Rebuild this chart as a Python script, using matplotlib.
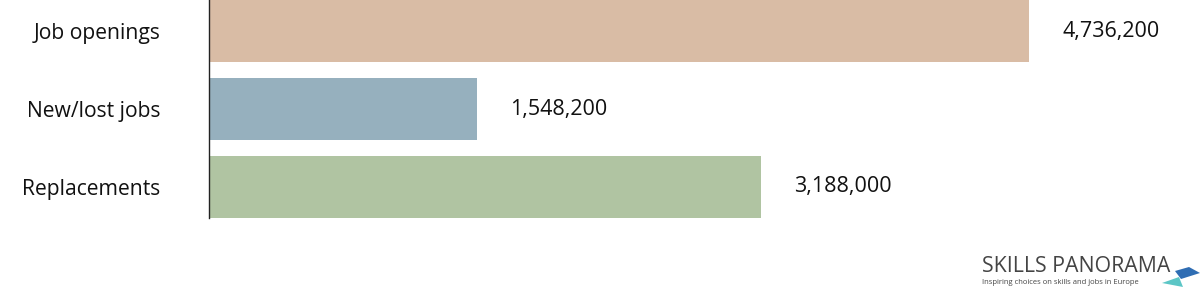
import matplotlib.pyplot as plt
from matplotlib.patches import Polygon

categories = ['Job openings', 'New/lost jobs', 'Replacements']
values = [4736200, 1548200, 3188000]
colors = ['#d9bca5', '#96b0be', '#b0c4a2']

plt.rcParams['font.family'] = ['Open Sans', 'DejaVu Sans']

fig = plt.figure(figsize=(12, 2.9), dpi=100)
ax = fig.add_axes([209 / 1200, 72 / 290, 991 / 1200, 218 / 290])

ypos = range(len(categories))
ax.barh(ypos, values, height=0.8, color=colors, zorder=1)
ax.set_ylim(2.4, -0.4)
ax.set_xlim(0, 5725000)

for y, v in zip(ypos, values):
    ax.annotate(f'{v:,}', xy=(v, y), xytext=(24, 0), textcoords='offset points',
                ha='left', va='center', fontsize=15.5, color='#111111')

ax.set_yticks(list(ypos))
ax.set_yticklabels(categories, fontsize=15.2, color='#111111')
ax.tick_params(axis='y', length=0, pad=35)
ax.set_xticks([])
for side in ['top', 'right', 'bottom']:
    ax.spines[side].set_visible(False)
ax.spines['left'].set_color('#222222')
ax.spines['left'].set_linewidth(1)

# logo
def fpt(x, y):
    return (x / 1200, 1 - y / 290)

fig.text(*fpt(982, 272), 'SKILLS PANORAMA', fontsize=15.3,
         color='#444444', ha='left', va='baseline')
fig.text(*fpt(982, 284), 'Inspiring choices on skills and jobs in Europe',
         fontsize=5.5, color='#444444', ha='left', va='baseline')
fig.patches.append(Polygon([fpt(1175, 271), fpt(1189, 267), fpt(1200, 273), fpt(1181, 279)],
                           closed=True, transform=fig.transFigure,
                           facecolor='#2f6db3', edgecolor='none'))
fig.patches.append(Polygon([fpt(1162, 283), fpt(1179, 277), fpt(1183, 287)],
                           closed=True, transform=fig.transFigure,
                           facecolor='#5cc6c6', edgecolor='none'))

fig.savefig('out.png', dpi=100, facecolor='white')
